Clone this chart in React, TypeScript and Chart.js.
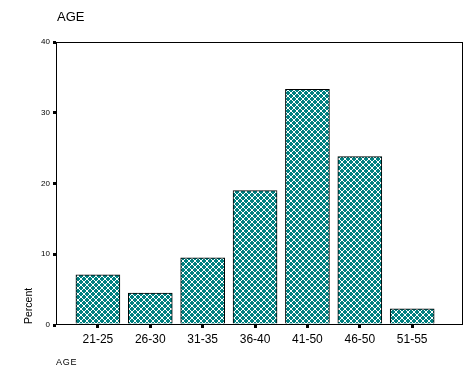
import React, { useEffect, useRef } from "react";
import { Chart, registerables } from "chart.js";

Chart.register(...registerables);

const categories = ["21-25", "26-30", "31-35", "36-40", "41-50", "46-50", "51-55"];
const percents = [7.1, 4.5, 9.5, 19.0, 33.3, 23.8, 2.3];
const yTicks = [0, 10, 20, 30, 40];
const titleText = "AGE";
const xTitle = "AGE";
const yTitle = "Percent";

const FONT = "'Liberation Sans', Arial, sans-serif";

function makePattern(): CanvasPattern | string {
  const n = 6;
  const c = document.createElement("canvas");
  c.width = n;
  c.height = n;
  const ctx = c.getContext("2d");
  if (!ctx) return "#008080";
  ctx.fillStyle = "#008080";
  ctx.fillRect(0, 0, n, n);
  ctx.fillStyle = "#ffffff";
  for (let i = 0; i < n; i++) {
    ctx.fillRect(i, i, 1, 1);
    ctx.fillRect(n - 1 - i, i, 1, 1);
  }
  const p = ctx.createPattern(c, "repeat");
  return p || "#008080";
}

const decorPlugin = {
  id: "decor",
  afterDraw(chart: any) {
    const { ctx, chartArea } = chart;
    ctx.save();
    ctx.strokeStyle = "#000";
    ctx.lineWidth = 1;
    ctx.strokeRect(
      Math.round(chartArea.left) + 0.5,
      Math.round(chartArea.top) + 0.5,
      Math.round(chartArea.right - chartArea.left) - 1,
      Math.round(chartArea.bottom - chartArea.top) - 1
    );
    ctx.fillStyle = "#000";
    ctx.textBaseline = "middle";
    ctx.textAlign = "left";
    ctx.font = `13px ${FONT}`;
    ctx.fillText(titleText, 57, 17);
    ctx.font = `9px ${FONT}`;
    ctx.fillText(xTitle.split("").join(String.fromCharCode(8202)), 56, 363);
    ctx.font = `10.5px ${FONT}`;
    ctx.translate(29, 324);
    ctx.rotate(-Math.PI / 2);
    ctx.textAlign = "left";
    ctx.fillText(yTitle, 0, 0);
    ctx.restore();
  },
};

export default function App() {
  const ref = useRef<HTMLCanvasElement | null>(null);
  useEffect(() => {
    if (!ref.current) return;
    const pattern = makePattern();
    const chart = new Chart(ref.current, {
      type: "bar",
      data: {
        datasets: [
          {
            data: percents.map((v, i) => ({ x: i, y: v })),
            backgroundColor: pattern as any,
            borderColor: "#000",
            borderWidth: 1,
            barThickness: 44,
          },
        ],
      },
      options: {
        animation: false,
        responsive: false,
        maintainAspectRatio: false,
        layout: { padding: { left: 0, top: 42, right: 11, bottom: 0 } },
        plugins: { legend: { display: false }, tooltip: { enabled: false }, title: { display: false } },
        scales: {
          x: {
            type: "linear",
            offset: false,
            min: -0.8,
            max: 6.97,
            afterBuildTicks: (s: any) => {
              s.ticks = categories.map((_, i) => ({ value: i }));
            },
            afterFit: (s: any) => {
              s.height = 54;
            },
            ticks: {
              callback: (v: any) => categories[v as number] ?? "",
              font: { family: FONT, size: 12 },
              color: "#000",
              padding: 4,
              maxRotation: 0,
              autoSkip: false,
            },
            grid: { offset: false, drawOnChartArea: false, drawTicks: true, tickLength: 3, lineWidth: 3, color: "#000" },
            border: { display: false },
          },
          y: {
            min: 0,
            max: 40,
            afterBuildTicks: (s: any) => {
              s.ticks = yTicks.map((v) => ({ value: v }));
            },
            afterFit: (s: any) => {
              s.width = 56;
            },
            ticks: {
              font: { family: FONT, size: 8 },
              color: "#000",
              padding: 3,
            },
            grid: { drawOnChartArea: false, drawTicks: true, tickLength: 3, lineWidth: 3, color: "#000" },
            border: { display: false },
          },
        },
      },
      plugins: [decorPlugin],
    });
    return () => chart.destroy();
  }, []);
  return (
    <div style={{ position: "fixed", left: 0, top: 0, width: 474, height: 379, background: "#fff" }}>
      <canvas ref={ref} width={474} height={379} style={{ width: 474, height: 379 }} />
    </div>
  );
}
